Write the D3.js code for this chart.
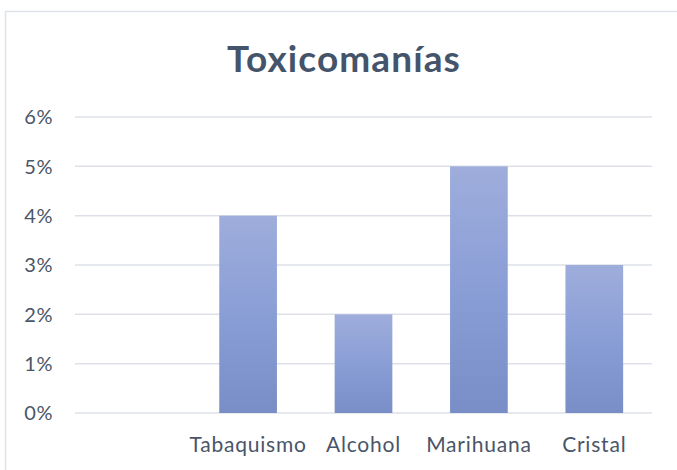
<!DOCTYPE html>
<html>
<head>
<meta charset="utf-8">
<script src="https://cdn.jsdelivr.net/npm/d3@7"></script>
<style>
  body { margin: 0; background: #fff; }
  svg { display: block; font-family: Lato, 'Open Sans', sans-serif; }
</style>
</head>
<body>
<svg id="chart"></svg>
<script>
const categories = ['', 'Tabaquismo', 'Alcohol', 'Marihuana', 'Cristal'];
const values = [null, 0.04, 0.02, 0.05, 0.03];
const yTicks = [0, 0.01, 0.02, 0.03, 0.04, 0.05, 0.06];
const title = 'Toxicomanías';

const width = 677;
const height = 470;
const margin = { top: 117, right: 25, bottom: 57, left: 75 };

const svg = d3.select('#chart')
  .attr('width', width)
  .attr('height', height);

const defs = svg.append('defs');
const grad = defs.append('linearGradient')
  .attr('id', 'barFill')
  .attr('x1', 0).attr('y1', 0)
  .attr('x2', 0).attr('y2', 1);
grad.append('stop').attr('offset', '0%').attr('stop-color', '#9eaddb');
grad.append('stop').attr('offset', '50%').attr('stop-color', '#8a9ed6');
grad.append('stop').attr('offset', '100%').attr('stop-color', '#798ec6');

// chart frame
svg.append('rect')
  .attr('x', 5.5)
  .attr('y', 11.5)
  .attr('width', 700)
  .attr('height', 500)
  .attr('fill', 'none')
  .attr('stroke', '#dfe3e8')
  .attr('stroke-width', 1.5);

const x = d3.scaleBand()
  .domain(categories.map((c, i) => i))
  .range([margin.left, width - margin.right])
  .paddingInner(0.5)
  .paddingOuter(0.25);

const y = d3.scaleLinear()
  .domain([0, 0.06])
  .range([height - margin.bottom, margin.top]);

// gridlines
svg.append('g')
  .selectAll('line')
  .data(yTicks)
  .enter()
  .append('line')
  .attr('x1', margin.left)
  .attr('x2', width - margin.right)
  .attr('y1', d => y(d))
  .attr('y2', d => y(d))
  .attr('stroke', '#dde1e7')
  .attr('stroke-width', 1.5);

// y labels
svg.append('g')
  .selectAll('text')
  .data(yTicks)
  .enter()
  .append('text')
  .attr('x', 53)
  .attr('y', d => y(d))
  .attr('dy', '0.36em')
  .attr('text-anchor', 'end')
  .attr('fill', '#4a5568')
  .attr('font-size', 20)
  .attr('letter-spacing', 0.5)
  .text(d3.format('.0%'));

// bars
svg.append('g')
  .selectAll('rect')
  .data(values.map((v, i) => ({ v, i })).filter(d => d.v != null))
  .enter()
  .append('rect')
  .attr('x', d => x(d.i))
  .attr('y', d => y(d.v))
  .attr('width', x.bandwidth())
  .attr('height', d => y(0) - y(d.v))
  .attr('fill', 'url(#barFill)');

// x labels
svg.append('g')
  .selectAll('text')
  .data(categories)
  .enter()
  .append('text')
  .attr('x', (d, i) => x(i) + x.bandwidth() / 2)
  .attr('y', 452)
  .attr('text-anchor', 'middle')
  .attr('fill', '#4a5568')
  .attr('font-size', 21)
  .attr('letter-spacing', 0.8)
  .text(d => d);

svg.append('text')
  .attr('x', 344)
  .attr('y', 72)
  .attr('text-anchor', 'middle')
  .attr('fill', '#44546a')
  .attr('font-size', 37)
  .attr('font-weight', 'bold')
  .attr('letter-spacing', 1.1)
  .text(title);
</script>
</body>
</html>
